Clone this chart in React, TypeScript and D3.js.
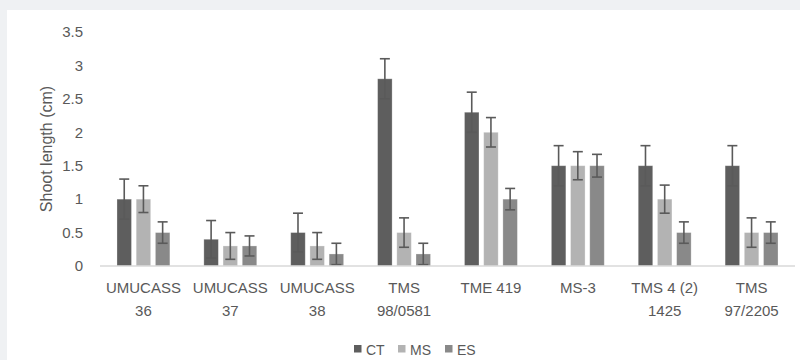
import React from "react";
import * as d3 from "d3";

const categories = ["UMUCASS\n36", "UMUCASS\n37", "UMUCASS\n38", "TMS\n98/0581", "TME 419", "MS-3", "TMS 4 (2)\n1425", "TMS\n97/2205"];
const seriesNames = ["CT", "MS", "ES"];
const ctValues = [1.0, 0.4, 0.5, 2.8, 2.3, 1.5, 1.5, 1.5];
const ctErrors = [0.3, 0.28, 0.29, 0.3, 0.3, 0.3, 0.3, 0.3];
const msValues = [1.0, 0.3, 0.3, 0.5, 2.0, 1.5, 1.0, 0.5];
const msErrors = [0.2, 0.2, 0.2, 0.22, 0.22, 0.21, 0.21, 0.22];
const esValues = [0.5, 0.3, 0.18, 0.18, 1.0, 1.5, 0.5, 0.5];
const esErrors = [0.16, 0.15, 0.16, 0.16, 0.16, 0.17, 0.16, 0.16];
const yTicks = [0, 0.5, 1, 1.5, 2, 2.5, 3, 3.5];
const yTitle = "Shoot length (cm)";

const colors = ["#5e5e5e", "#b3b3b3", "#898989"];
const textColor = "#595959";
const font = "'Liberation Sans', Arial, sans-serif";

export default function App() {
  const W = 800, H = 360;
  const x = d3.scaleBand<number>().domain(d3.range(categories.length)).range([100, 795]).padding(0);
  const y = d3.scaleLinear().domain([0, 3.5]).range([266, 32]);
  const values = [ctValues, msValues, esValues];
  const errors = [ctErrors, msErrors, esErrors];
  const barW = 14.5;
  const pitch = 19.2;
  const fmt = d3.format("~g");

  return (
    <svg width={W} height={H} style={{ position: "absolute", left: 0, top: 0, display: "block" }} fontFamily={font}>
      <rect x={0} y={0} width={W} height={H} fill="#eff1f3" />
      <rect x={7} y={10} width={W - 7} height={H - 10} fill="#ffffff" />
      {yTicks.map((t) => (
        <text key={t} x={83} y={y(t)} dy="0.35em" textAnchor="end" fontSize={15} fill={textColor}>
          {fmt(t)}
        </text>
      ))}
      <text
        transform={`translate(46,${(y(0) + y(3.5)) / 2 + 0}) rotate(-90)`}
        textAnchor="middle"
        dy="0.35em"
        fontSize={16}
        fill={textColor}
      >
        {yTitle}
      </text>
      {categories.map((c, i) => {
        const cx = x(i)! + x.bandwidth() / 2;
        return (
          <g key={c}>
            {values.map((vals, s) => {
              const bx = cx + (s - 1) * pitch;
              const v = vals[i];
              const e = errors[s][i];
              return (
                <g key={s}>
                  <rect
                    x={bx - barW / 2}
                    y={y(v)}
                    width={barW}
                    height={y(0) - y(v)}
                    fill={colors[s]}
                    stroke="#ffffff"
                    strokeOpacity={0.35}
                    strokeWidth={0.8}
                  />
                  <line x1={bx} x2={bx} y1={y(v + e)} y2={y(v - e)} stroke="#5a5a5a" strokeWidth={1.6} />
                  <line x1={bx - 5} x2={bx + 5} y1={y(v + e)} y2={y(v + e)} stroke="#5a5a5a" strokeWidth={1.6} />
                  <line x1={bx - 5} x2={bx + 5} y1={y(v - e)} y2={y(v - e)} stroke="#5a5a5a" strokeWidth={1.6} />
                </g>
              );
            })}
            {c.split("\n").map((line, k) => (
              <text key={k} x={cx} y={293 + k * 23} textAnchor="middle" fontSize={15} fill={textColor}>
                {line}
              </text>
            ))}
          </g>
        );
      })}
      <line x1={100} x2={795} y1={y(0)} y2={y(0)} stroke="#d9d9d9" strokeWidth={1.5} />
      {seriesNames.map((n, s) => {
        const lx = [354, 398, 445][s];
        return (
          <g key={n}>
            <rect x={lx} y={345} width={7.5} height={7.5} fill={colors[s]} />
            <text x={lx + 12} y={355} fontSize={14} fill={textColor}>
              {n}
            </text>
          </g>
        );
      })}
    </svg>
  );
}
